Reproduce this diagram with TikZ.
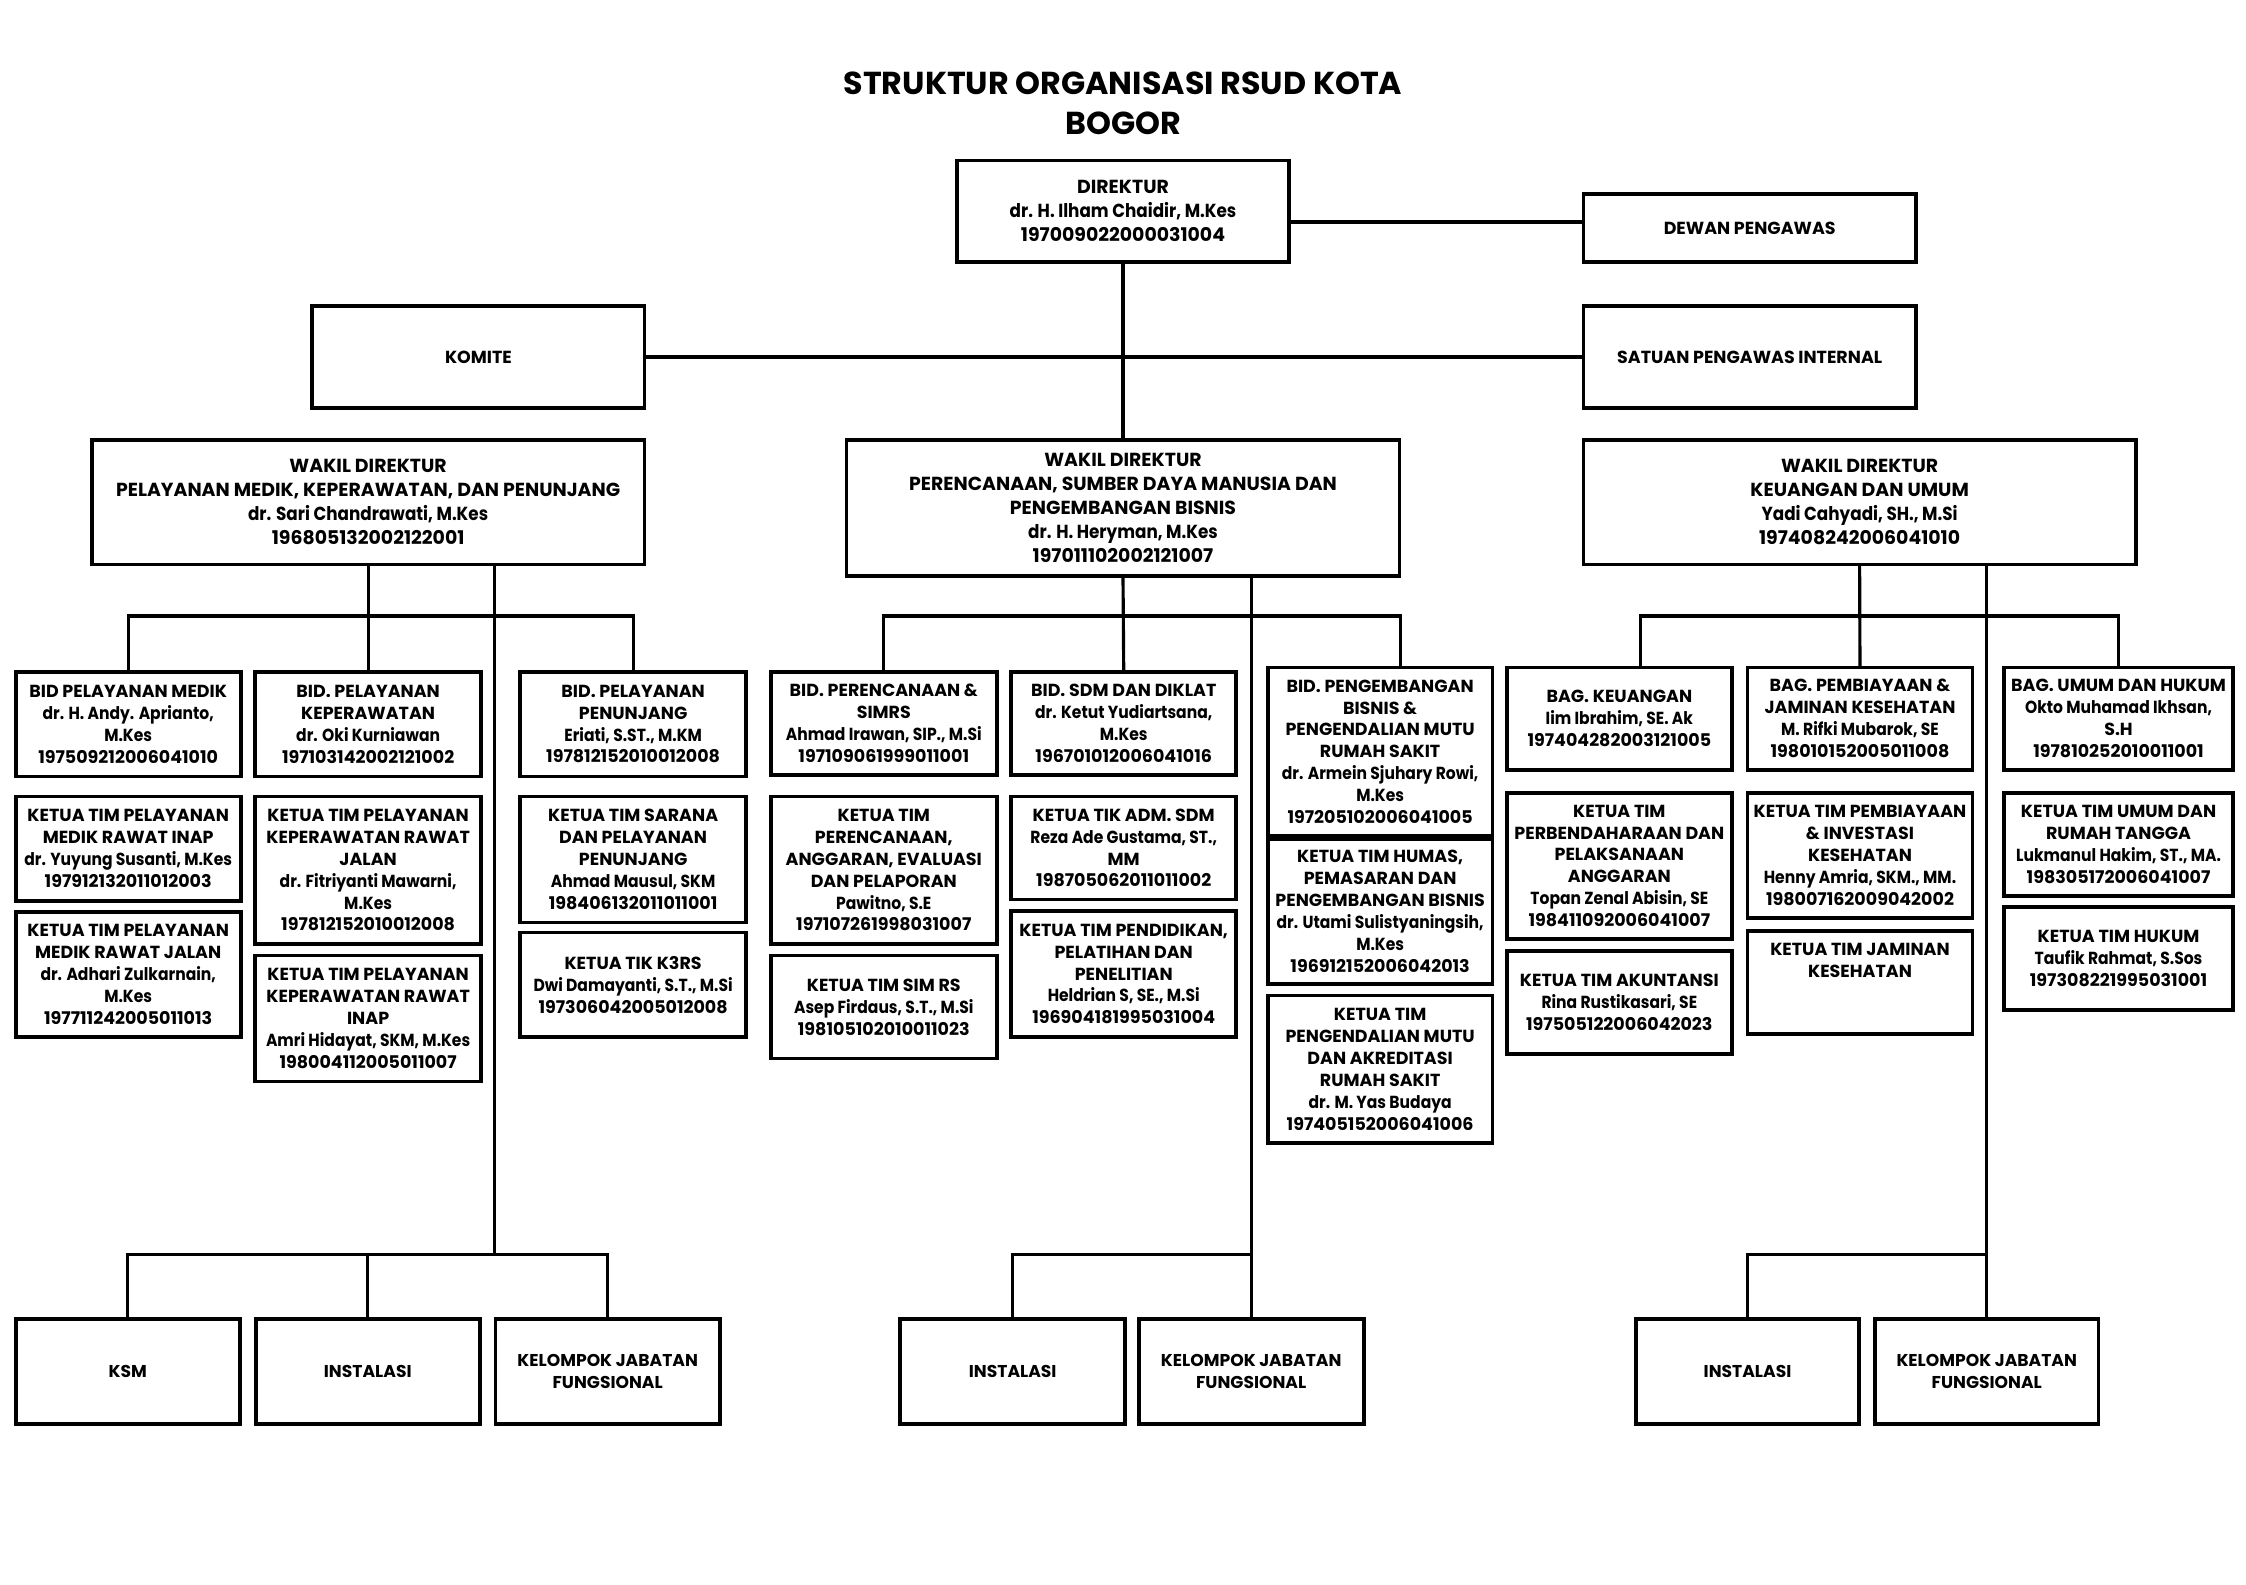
\documentclass[tikz,border=0pt]{standalone}
\usepackage{fontspec}
\setmainfont{Poppins}
\newfontfamily\pnarrow{Poppins}[FakeStretch=0.89]
\newlength\calw
\newcommand\calib[3]{\settowidth\calw{\fontsize{10pt}{12pt}\selectfont\bfseries #2}\pgfmathsetmacro#1{10*#3/\calw}}
\newcommand\bx[7]{\node[#6, minimum width={#4-#2}, minimum height={#5-#3}] (#1) at ({(#2+#4)/2},{(#3+#5)/2}) {#7};}
\newcommand\nm[1]{{\pnarrow\bfseries #1}}
\begin{document}
\calib\szS{BID PELAYANAN MEDIK}{138}%
\calib\szL{PELAYANAN MEDIK, KEPERAWATAN, DAN PENUNJANG}{352}%
\calib\szM{SATUAN PENGAWAS INTERNAL}{185}%
\calib\szK{KELOMPOK JABATAN}{126}%
\calib\szT{STRUKTUR ORGANISASI RSUD KOTA}{390}%
\def\fS{\fontsize{\szS pt}{15.3pt}\selectfont\bfseries}%
\def\fL{\fontsize{\szL pt}{16.8pt}\selectfont\bfseries}%
\def\fM{\fontsize{\szM pt}{16pt}\selectfont\bfseries}%
\def\fK{\fontsize{\szK pt}{15.4pt}\selectfont\bfseries}%
\def\fT{\fontsize{\szT pt}{28pt}\selectfont\bfseries}%
\begin{tikzpicture}[x=1pt,y=-1pt,
  frame/.style={draw=black, line width=2.6pt, inner sep=0pt, align=center, text=black},
  sbox/.style={frame, font=\fS},
  bbox/.style={frame, font=\fL},
  mbox/.style={frame, font=\fM},
  kbox/.style={frame, font=\fK},
  conn/.style={draw=black, line width=2.2pt, line cap=rect, line join=miter}]
\fill[white] (0,0) rectangle (1568,1106);
\useasboundingbox (0,0) rectangle (1568,1106);

\node[font=\fT, align=center, inner sep=0pt] (title) at (784,72) {STRUKTUR ORGANISASI RSUD KOTA\\BOGOR};

% top level
\bx{dir}{668}{112}{900}{183}{bbox}{DIREKTUR\\\nm{dr. H. Ilham Chaidir, M.Kes}\\197009022000031004}
\bx{dewan}{1105.5}{135.5}{1337.5}{183}{mbox}{DEWAN PENGAWAS}
\bx{komite}{218}{213.5}{450}{285}{mbox}{KOMITE}
\bx{spi}{1105.5}{213.5}{1337.5}{285}{mbox}{SATUAN PENGAWAS INTERNAL}
\bx{wl}{64}{307}{450}{394}{bbox}{WAKIL DIREKTUR\\PELAYANAN MEDIK, KEPERAWATAN, DAN PENUNJANG\\\nm{dr. Sari Chandrawati, M.Kes}\\196805132002122001}
\bx{wm}{591}{307}{977}{402}{bbox}{WAKIL DIREKTUR\\PERENCANAAN, SUMBER DAYA MANUSIA DAN\\PENGEMBANGAN BISNIS\\\nm{dr. H. Heryman, M.Kes}\\197011102002121007}
\bx{wr}{1105.5}{307}{1491}{394}{bbox}{WAKIL DIREKTUR\\KEUANGAN DAN UMUM\\\nm{Yadi Cahyadi, SH., M.Si}\\197408242006041010}

% left section
\bx{l1a}{11}{469}{168}{542}{sbox}{BID PELAYANAN MEDIK\\\nm{dr. H. Andy. Aprianto,}\\\nm{M.Kes}\\197509212006041010}
\bx{l1b}{11}{556}{168}{629}{sbox}{KETUA TIM PELAYANAN\\MEDIK RAWAT INAP\\\nm{dr. Yuyung Susanti, M.Kes}\\197912132011012003}
\bx{l1c}{11}{636.5}{168}{724}{sbox}{KETUA TIM PELAYANAN\\MEDIK RAWAT JALAN\\\nm{dr. Adhari Zulkarnain,}\\\nm{M.Kes}\\197711242005011013}
\bx{l2a}{178}{469}{336}{542}{sbox}{BID. PELAYANAN\\KEPERAWATAN\\\nm{dr. Oki Kurniawan}\\197103142002121002}
\bx{l2b}{178}{556}{336}{659}{sbox}{KETUA TIM PELAYANAN\\KEPERAWATAN RAWAT\\JALAN\\\nm{dr. Fitriyanti Mawarni,}\\\nm{M.Kes}\\197812152010012008}
\bx{l2c}{178}{667}{336}{755}{sbox}{KETUA TIM PELAYANAN\\KEPERAWATAN RAWAT\\INAP\\\nm{Amri Hidayat, SKM, M.Kes}\\198004112005011007}
\bx{l3a}{363}{469}{521}{542}{sbox}{BID. PELAYANAN\\PENUNJANG\\\nm{Eriati, S.ST., M.KM}\\197812152010012008}
\bx{l3b}{363}{556}{521}{644}{sbox}{KETUA TIM SARANA\\DAN PELAYANAN\\PENUNJANG\\\nm{Ahmad Mausul, SKM}\\198406132011011001}
\bx{l3c}{363}{651}{521}{724}{sbox}{KETUA TIK K3RS\\\nm{Dwi Damayanti, S.T., M.Si}\\197306042005012008}

% middle section
\bx{m1a}{538}{469}{696}{541}{sbox}{BID. PERENCANAAN \&\\SIMRS\\\nm{Ahmad Irawan, SIP., M.Si}\\197109061999011001}
\bx{m1b}{538}{556}{696}{659}{sbox}{KETUA TIM\\PERENCANAAN,\\ANGGARAN, EVALUASI\\DAN PELAPORAN\\\nm{Pawitno, S.E}\\197107261998031007}
\bx{m1c}{538}{667}{696}{739}{sbox}{KETUA TIM SIM RS\\\nm{Asep Firdaus, S.T., M.Si}\\198105102010011023}
\bx{m2a}{706}{469}{863}{541}{sbox}{BID. SDM DAN DIKLAT\\\nm{dr. Ketut Yudiartsana,}\\\nm{M.Kes}\\196701012006041016}
\bx{m2b}{706}{556}{863}{628}{sbox}{KETUA TIK ADM. SDM\\\nm{Reza Ade Gustama, ST.,}\\MM\\198705062011011002}
\bx{m2c}{706}{636}{863}{724}{sbox}{KETUA TIM PENDIDIKAN,\\PELATIHAN DAN\\PENELITIAN\\\nm{Heldrian S, SE., M.Si}\\196904181995031004}
\bx{m3a}{885}{466}{1042}{583.5}{sbox}{BID. PENGEMBANGAN\\BISNIS \&\\PENGENDALIAN MUTU\\RUMAH SAKIT\\\nm{dr. Armein Sjuhary Rowi,}\\\nm{M.Kes}\\197205102006041005}
\bx{m3b}{885}{585.5}{1042}{687}{sbox}{KETUA TIM HUMAS,\\PEMASARAN DAN\\PENGEMBANGAN BISNIS\\\nm{dr. Utami Sulistyaningsih,}\\\nm{M.Kes}\\196912152006042013}
\bx{m3c}{885}{695}{1042}{798}{sbox}{KETUA TIM\\PENGENDALIAN MUTU\\DAN AKREDITASI\\RUMAH SAKIT\\\nm{dr. M. Yas Budaya}\\197405152006041006}

% right section
\bx{r1a}{1052}{466}{1209}{537.5}{sbox}{BAG. KEUANGAN\\\nm{Iim Ibrahim, SE. Ak}\\197404282003121005}
\bx{r1b}{1052}{553.5}{1209}{655.5}{sbox}{KETUA TIM\\PERBENDAHARAAN DAN\\PELAKSANAAN\\ANGGARAN\\\nm{Topan Zenal Abisin, SE}\\198411092006041007}
\bx{r1c}{1052}{664}{1209}{736}{sbox}{KETUA TIM AKUNTANSI\\\nm{Rina Rustikasari, SE}\\197505122006042023}
\bx{r2a}{1220}{466}{1377}{537.5}{sbox}{BAG. PEMBIAYAAN \&\\JAMINAN KESEHATAN\\\nm{M. Rifki Mubarok, SE}\\198010152005011008}
\bx{r2b}{1220}{553.5}{1377}{641}{sbox}{KETUA TIM PEMBIAYAAN\\\& INVESTASI\\KESEHATAN\\\nm{Henny Amria, SKM., MM.}\\198007162009042002}
\bx{r2c}{1220}{650}{1377}{722}{sbox}{KETUA TIM JAMINAN\\KESEHATAN\\\mbox{}\\\mbox{}}
\bx{r3a}{1399}{466}{1559}{537.5}{sbox}{BAG. UMUM DAN HUKUM\\\nm{Okto Muhamad Ikhsan,}\\S.H\\197810252010011001}
\bx{r3b}{1399}{553.5}{1559}{625.5}{sbox}{KETUA TIM UMUM DAN\\RUMAH TANGGA\\\nm{Lukmanul Hakim, ST., MA.}\\198305172006041007}
\bx{r3c}{1399}{633}{1559}{705}{sbox}{KETUA TIM HUKUM\\\nm{Taufik Rahmat, S.Sos}\\197308221995031001}

% bottom row
\bx{ksm}{11}{921}{167.5}{994}{kbox}{KSM}
\bx{linst}{178.5}{921}{335}{994}{kbox}{INSTALASI}
\bx{lkjf}{346}{921}{502.5}{994}{kbox}{KELOMPOK JABATAN\\FUNGSIONAL}
\bx{minst}{628.5}{921}{785.5}{994}{kbox}{INSTALASI}
\bx{mkjf}{795}{921}{952}{994}{kbox}{KELOMPOK JABATAN\\FUNGSIONAL}
\bx{rinst}{1142}{921}{1298}{994}{kbox}{INSTALASI}
\bx{rkjf}{1309}{921}{1465}{994}{kbox}{KELOMPOK JABATAN\\FUNGSIONAL}

% helper coordinates
\coordinate (ydew) at (0,155);
\coordinate (ybus) at (0,430);
\coordinate (ybot) at (0,876);
\coordinate (xl) at (345,0);
\coordinate (xm3) at (978,0);
\coordinate (xr1) at (1145,0);

% connectors
\draw[conn] (dir.east |- ydew) -- (dewan.west |- ydew);
\draw[conn] (dir.south) -- (wm.north);
\draw[conn] (komite.east) -- (spi.west);

\draw[conn] (wl.south) -- (l2a.north);
\draw[conn] (l1a.north) -- (l1a.north |- ybus) -- (l3a.north |- ybus) -- (l3a.north);
\draw[conn] (wl.south -| xl) -- (xl |- ybot);
\draw[conn] (ksm.north) -- (ksm.north |- ybot) -- (lkjf.north |- ybot) -- (lkjf.north);
\draw[conn] (linst.north) -- (linst.north |- ybot);

\draw[conn] (wm.south) -- (m2a.north);
\draw[conn] (m1a.north) -- (m1a.north |- ybus) -- (xm3 |- ybus) -- (m3a.north -| xm3);
\draw[conn] (wm.south -| mkjf.north) -- (mkjf.north);
\draw[conn] (minst.north) -- (minst.north |- ybot) -- (mkjf.north |- ybot);

\draw[conn] (wr.south) -- (r2a.north);
\draw[conn] (r1a.north -| xr1) -- (xr1 |- ybus) -- (r3a.north |- ybus) -- (r3a.north);
\draw[conn] (wr.south -| rkjf.north) -- (rkjf.north);
\draw[conn] (rinst.north) -- (rinst.north |- ybot) -- (rkjf.north |- ybot);
\end{tikzpicture}
\end{document}
